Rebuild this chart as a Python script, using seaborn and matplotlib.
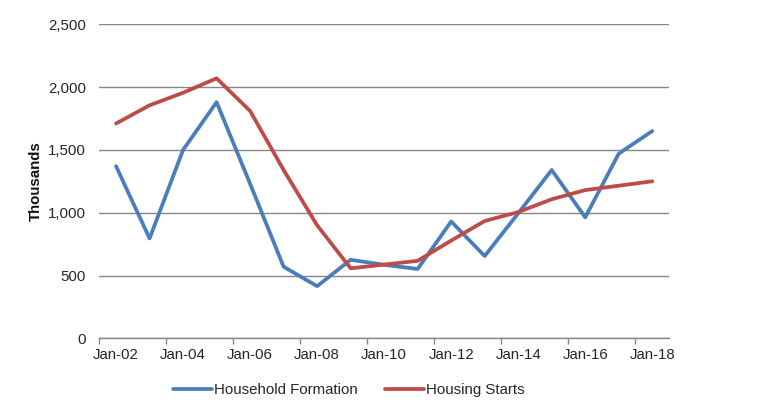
import matplotlib
matplotlib.use("Agg")
import matplotlib.pyplot as plt
import seaborn as sns
import pandas as pd
import numpy as np
from matplotlib.ticker import FuncFormatter, FixedLocator

years = list(range(2002, 2019))
tick_labels = ["Jan-02", "Jan-04", "Jan-06", "Jan-08", "Jan-10",
               "Jan-12", "Jan-14", "Jan-16", "Jan-18"]
household_formation = [1370, 795, 1500, 1880, 1230, 570, 415, 625, 585,
                       552, 930, 655, 995, 1340, 963, 1470, 1650]
housing_starts = [1710, 1855, 1955, 2070, 1810, 1340, 900, 557, 587,
                  617, 778, 934, 1005, 1107, 1180, 1215, 1250]
series_names = ["Household Formation", "Housing Starts"]
colors = ["#4A7EBB", "#BE4B48"]

df = pd.DataFrame({
    "idx": list(range(len(years))) * 2,
    "value": household_formation + housing_starts,
    "series": [series_names[0]] * len(years) + [series_names[1]] * len(years),
})

sns.set_theme(style="white")
plt.rcParams["font.family"] = ["Liberation Sans", "DejaVu Sans"]

FS = 10.8
TXT = "#262626"

fig = plt.figure(figsize=(7.61, 4.09), dpi=100)
ax = fig.add_axes([99.3 / 761, 1 - 338.3 / 409, (669 - 99.3) / 761, (338.3 - 24.3) / 409])

sns.lineplot(data=df, x="idx", y="value", hue="series", palette=colors,
             linewidth=2.7, ax=ax, legend=False, sort=False)

ax.set_xlim(-0.5, len(years) - 0.5)
ax.set_ylim(0, 2500)
ax.set_yticks(np.arange(0, 2501, 500))
ax.yaxis.set_major_formatter(FuncFormatter(lambda v, p: f"{int(v):,}"))
ax.grid(axis="y", color="#868686", linewidth=1.0)
ax.set_axisbelow(True)

ax.set_xticks(list(range(0, len(years), 2)))
ax.set_xticklabels(tick_labels)
ax.xaxis.set_minor_locator(FixedLocator([i - 0.5 for i in range(0, len(years), 2)]))
ax.tick_params(axis="x", which="major", length=0, pad=7, labelsize=FS, labelcolor=TXT)
ax.tick_params(axis="x", which="minor", length=4, width=1, color="#868686", direction="out", bottom=True)
ax.tick_params(axis="y", length=0, pad=9.5, labelsize=FS, labelcolor=TXT)

for s in ["top", "right", "left"]:
    ax.spines[s].set_visible(False)
ax.spines["bottom"].set_color("#868686")
ax.spines["bottom"].set_linewidth(1.0)

ax.set_xlabel("")
ax.set_ylabel("Thousands", fontsize=FS, fontweight="bold", color="#111111")
ax.yaxis.set_label_coords((43 - 99.3) / 569.7, 0.5)

handles = [plt.Line2D([0], [0], color=c, linewidth=2.7) for c in colors]
fig.legend(handles, series_names, loc="center", bbox_to_anchor=(348.5 / 761, 1 - 390 / 409),
           ncol=2, frameon=False, fontsize=FS, handlelength=2.6, handletextpad=0.15,
           columnspacing=1.8, labelcolor=TXT)

fig.savefig("out.png", dpi=100)
